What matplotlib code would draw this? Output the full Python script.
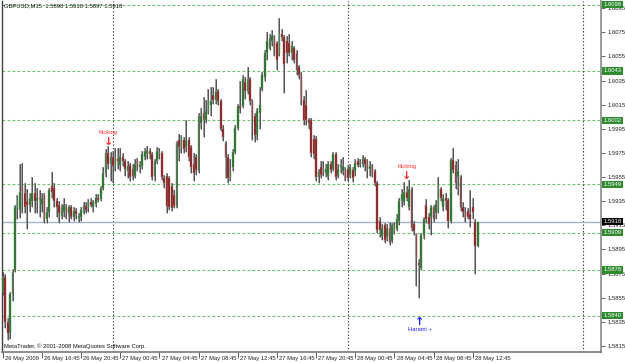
import matplotlib
matplotlib.use('Agg')
import matplotlib.pyplot as plt
import matplotlib.transforms as mtransforms

# ---------------- data ----------------
opens = [1.5860,1.5872,1.5835,1.5826,1.5858,1.5878,1.5930,1.5928,1.5948,1.5942,
         1.5935,1.5932,1.5935,1.5942,1.5935,1.5938,1.5932,1.5940,1.5920,1.5926,
         1.5948,1.5946,1.5935,1.5932,1.5923,1.5926,1.5930,1.5924,1.5930,1.5922,
         1.5927,1.5921,1.5922,1.5926,1.5931,1.5929,1.5934,1.5930,1.5933,1.5938,
         1.5937,1.5946,1.5958,1.5975,1.5966,1.5972,1.5964,1.5970,1.5965,1.5972,
         1.5968,1.5960,1.5965,1.5962,1.5956,1.5968,1.5963,1.5964,1.5972,1.5974,
         1.5977,1.5974,1.5956,1.5968,1.5974,1.5975,1.5954,1.5956,1.5954,1.5948,
         1.5940,1.5930,1.5986,1.5980,1.5986,1.5980,1.5986,1.5980,1.5966,1.5972,
         1.5960,1.6000,1.6008,1.6002,1.6010,1.6015,1.6023,1.6019,1.6026,1.6018,
         1.5995,1.5983,1.5972,1.5955,1.5963,1.5976,1.5996,1.6014,1.6014,1.6034,
         1.6026,1.6036,1.6018,1.6006,1.5990,1.6008,1.6028,1.6038,1.6058,1.6062,
         1.6068,1.6071,1.6066,1.6058,1.6074,1.6071,1.6068,1.6066,1.6058,1.6062,
         1.6058,1.6046,1.6040,1.6019,1.6015,1.6002,1.6002,1.5987,1.5987,1.5955,
         1.5963,1.5960,1.5958,1.5956,1.5966,1.5962,1.5974,1.5956,1.5963,1.5960,
         1.5960,1.5962,1.5957,1.5961,1.5960,1.5968,1.5966,1.5966,1.5970,1.5968,
         1.5962,1.5965,1.5960,1.5950,1.5919,1.5906,1.5915,1.5905,1.5913,1.5902,
         1.5912,1.5912,1.5919,1.5935,1.5934,1.5943,1.5930,1.5945,1.5916,1.5907,
         1.5884,1.5880,1.5907,1.5932,1.5922,1.5922,1.5930,1.5925,1.5928,1.5945,
         1.5930,1.5938,1.5936,1.5919,1.5969,1.5965,1.5955,1.5955,1.5930,1.5926,
         1.5927,1.5924,1.5930,1.5918,1.5898]
highs = [1.5876,1.5875,1.5838,1.5860,1.5879,1.5932,1.5940,1.5966,1.5967,1.5950,
         1.5945,1.5942,1.5955,1.5950,1.5946,1.5944,1.5942,1.5942,1.5930,1.5946,
         1.5959,1.5950,1.5938,1.5935,1.5933,1.5938,1.5933,1.5932,1.5932,1.5930,
         1.5929,1.5925,1.5930,1.5934,1.5934,1.5937,1.5938,1.5936,1.5941,1.5941,
         1.5948,1.5963,1.5978,1.5981,1.5976,1.5977,1.5979,1.5979,1.5979,1.5975,
         1.5970,1.5968,1.5967,1.5966,1.5970,1.5971,1.5968,1.5977,1.5979,1.5981,
         1.5979,1.5976,1.5970,1.5980,1.5979,1.5977,1.5957,1.5958,1.5956,1.5950,
         1.5944,1.5985,1.5991,1.5990,1.5988,1.6002,1.5988,1.5982,1.5975,1.5974,
         1.6008,1.6012,1.6021,1.6019,1.6028,1.6030,1.6030,1.6036,1.6028,1.6020,
         1.5998,1.5985,1.5974,1.5970,1.5978,1.5998,1.6016,1.6035,1.6040,1.6038,
         1.6046,1.6038,1.6020,1.6008,1.6012,1.6030,1.6042,1.6060,1.6075,1.6074,
         1.6077,1.6073,1.6068,1.6087,1.6078,1.6073,1.6072,1.6074,1.6068,1.6064,
         1.6060,1.6048,1.6042,1.6022,1.6027,1.6004,1.6004,1.5990,1.5989,1.5962,
         1.5968,1.5968,1.5966,1.5968,1.5968,1.5976,1.5976,1.5966,1.5970,1.5972,
         1.5963,1.5965,1.5966,1.5963,1.5970,1.5971,1.5970,1.5973,1.5972,1.5970,
         1.5968,1.5966,1.5962,1.5952,1.5922,1.5916,1.5917,1.5916,1.5918,1.5917,
         1.5918,1.5924,1.5938,1.5945,1.5951,1.5948,1.5953,1.5947,1.5919,1.5909,
         1.5887,1.5909,1.5922,1.5937,1.5925,1.5932,1.5932,1.5936,1.5955,1.5947,
         1.5941,1.5942,1.5938,1.5971,1.5979,1.5968,1.5970,1.5957,1.5934,1.5930,
         1.5929,1.5944,1.5938,1.5920,1.5918]
lows = [1.5857,1.5830,1.5820,1.5821,1.5852,1.5876,1.5920,1.5921,1.5925,1.5925,
        1.5912,1.5926,1.5930,1.5925,1.5925,1.5922,1.5926,1.5917,1.5917,1.5922,
        1.5938,1.5930,1.5922,1.5917,1.5920,1.5922,1.5920,1.5918,1.5920,1.5919,
        1.5920,1.5918,1.5919,1.5924,1.5925,1.5926,1.5930,1.5926,1.5930,1.5934,
        1.5935,1.5944,1.5955,1.5962,1.5952,1.5950,1.5960,1.5962,1.5960,1.5964,
        1.5956,1.5954,1.5952,1.5953,1.5954,1.5960,1.5958,1.5962,1.5969,1.5970,
        1.5970,1.5953,1.5952,1.5966,1.5970,1.5953,1.5946,1.5925,1.5928,1.5927,
        1.5929,1.5929,1.5968,1.5975,1.5975,1.5976,1.5968,1.5958,1.5952,1.5957,
        1.5958,1.5995,1.5988,1.6000,1.6007,1.6006,1.6016,1.6016,1.6015,1.5993,
        1.5985,1.5954,1.5950,1.5952,1.5960,1.5974,1.5994,1.6008,1.6012,1.6020,
        1.6024,1.6015,1.5986,1.5984,1.5986,1.5995,1.6026,1.6035,1.6052,1.6060,
        1.6064,1.6055,1.6044,1.6055,1.6068,1.6025,1.6050,1.6055,1.6052,1.6050,
        1.6040,1.6036,1.6015,1.5998,1.5998,1.5995,1.5972,1.5970,1.5952,1.5950,
        1.5954,1.5956,1.5955,1.5953,1.5958,1.5960,1.5953,1.5954,1.5958,1.5957,
        1.5952,1.5952,1.5954,1.5951,1.5956,1.5963,1.5963,1.5963,1.5960,1.5954,
        1.5956,1.5955,1.5948,1.5909,1.5905,1.5903,1.5900,1.5902,1.5899,1.5900,
        1.5908,1.5910,1.5915,1.5930,1.5932,1.5935,1.5928,1.5910,1.5907,1.5865,
        1.5855,1.5878,1.5904,1.5917,1.5912,1.5907,1.5918,1.5920,1.5925,1.5935,
        1.5927,1.5928,1.5913,1.5917,1.5958,1.5945,1.5940,1.5927,1.5922,1.5918,
        1.5920,1.5914,1.5920,1.5875,1.5897]
closes = [1.5872,1.5835,1.5826,1.5858,1.5876,1.5930,1.5936,1.5943,1.5942,1.5930,
          1.5932,1.5938,1.5942,1.5935,1.5938,1.5937,1.5938,1.5920,1.5926,1.5944,
          1.5943,1.5935,1.5930,1.5925,1.5930,1.5932,1.5926,1.5930,1.5922,1.5927,
          1.5924,1.5923,1.5928,1.5931,1.5928,1.5934,1.5932,1.5934,1.5938,1.5936,
          1.5946,1.5958,1.5975,1.5966,1.5972,1.5964,1.5972,1.5968,1.5972,1.5968,
          1.5962,1.5964,1.5955,1.5956,1.5966,1.5963,1.5965,1.5974,1.5977,1.5977,
          1.5974,1.5955,1.5968,1.5977,1.5976,1.5955,1.5950,1.5931,1.5930,1.5929,
          1.5931,1.5983,1.5980,1.5988,1.5978,1.5986,1.5972,1.5963,1.5958,1.5961,
          1.6006,1.6006,1.6002,1.6010,1.6018,1.6018,1.6019,1.6026,1.6018,1.5995,
          1.5988,1.5972,1.5954,1.5960,1.5976,1.5996,1.6014,1.6012,1.6036,1.6026,
          1.6036,1.6018,1.6004,1.5990,1.6010,1.6015,1.6040,1.6058,1.6068,1.6070,
          1.6072,1.6058,1.6052,1.6074,1.6071,1.6049,1.6058,1.6058,1.6064,1.6052,
          1.6044,1.6040,1.6019,1.6002,1.6002,1.6000,1.5975,1.5974,1.5955,1.5960,
          1.5957,1.5962,1.5962,1.5966,1.5961,1.5974,1.5955,1.5962,1.5965,1.5964,
          1.5954,1.5954,1.5963,1.5954,1.5967,1.5965,1.5967,1.5971,1.5966,1.5962,
          1.5964,1.5959,1.5950,1.5911,1.5911,1.5913,1.5903,1.5913,1.5901,1.5915,
          1.5914,1.5920,1.5935,1.5941,1.5943,1.5938,1.5945,1.5913,1.5910,1.5888,
          1.5882,1.5907,1.5920,1.5920,1.5916,1.5930,1.5920,1.5933,1.5946,1.5938,
          1.5938,1.5935,1.5919,1.5969,1.5961,1.5950,1.5960,1.5930,1.5926,1.5922,
          1.5922,1.5920,1.5926,1.5898,1.5918]

level_lines = [1.6098, 1.6043, 1.6002, 1.5949, 1.5909, 1.5878, 1.5840]
bid_price = 1.5918
price_ticks = [1.6095, 1.6075, 1.6055, 1.6035, 1.6015, 1.5995, 1.5975, 1.5955,
               1.5935, 1.5915, 1.5895, 1.5875, 1.5855, 1.5835, 1.5815]
time_tick_bars = [0, 16, 32, 48, 64, 80, 96, 112, 128, 144, 160, 176, 192]
time_tick_labels = ["26 May 2009", "26 May 16:45", "26 May 20:45", "27 May 00:45",
                    "27 May 04:45", "27 May 08:45", "27 May 12:45", "27 May 16:45",
                    "27 May 20:45", "28 May 00:45", "28 May 04:45", "28 May 08:45",
                    "28 May 12:45"]
day_separator_bars = [45, 141, 237]
signal_names = ["Kicking", "Kicking", "Harami +"]
signal_bars = [43, 165.1, 170.4]
signal_dirs = ["down", "down", "up"]
title_text = "GBPUSD,M15  1.5898 1.5918 1.5897 1.5918"
copyright_text = "MetaTrader, \u00a9 2001-2008 MetaQuotes Software Corp."

# ---------------- drawing ----------------
FONT = "Liberation Sans"
FS = 4.2
W, H = 625, 363
fig = plt.figure(figsize=(W / 100, H / 100), dpi=100, facecolor="white")
ax = fig.add_axes([2 / W, 11 / H, 599 / W, 351 / H])
ax.set_facecolor("white")

y_lo, y_hi = 1.58100, 1.61010
ax.set_xlim(-0.33, 244.4)
ax.set_ylim(y_lo, y_hi)

for lv in level_lines:
    ax.axhline(lv, color="#6cc06c", lw=0.8, ls=(0, (2.5, 2.0)), zorder=1)
for sb in day_separator_bars:
    ax.axvline(sb, color="#3a3a3a", lw=0.8, ls=(0, (1.2, 1.8)), zorder=1)
ax.axhline(bid_price, color="#a3b3c9", lw=1.0, zorder=1)

# candles
xs = list(range(len(opens)))
ax.vlines(xs, lows, highs, color="#9a9a9a", lw=1.3, zorder=2)
ax.vlines(xs, lows, highs, color="#454545", lw=0.6, zorder=2)
up_x, up_b, up_h = [], [], []
dn_x, dn_b, dn_h = [], [], []
for i, (o, c) in enumerate(zip(opens, closes)):
    if c >= o:
        up_x.append(i); up_b.append(o); up_h.append(c - o)
    else:
        dn_x.append(i); dn_b.append(c); dn_h.append(o - c)
ax.bar(up_x, up_h, bottom=up_b, width=0.72, color="#1f6a1f",
       edgecolor="#7a9a7a", linewidth=0.35, zorder=3)
ax.bar(dn_x, dn_h, bottom=dn_b, width=0.72, color="#8c1515",
       edgecolor="#9a7a7a", linewidth=0.35, zorder=3)

ax.spines["top"].set_visible(False)
ax.spines["left"].set_color("#404040")
ax.spines["left"].set_linewidth(1.0)
ax.spines["bottom"].set_color("#7a7a7a")
ax.spines["bottom"].set_linewidth(1.2)
ax.spines["right"].set_color("#9a9a9a")
ax.spines["right"].set_linewidth(1.4)

ax.yaxis.tick_right()
ax.set_yticks(price_ticks)
ax.set_yticklabels([f"{p:.4f}" for p in price_ticks], fontname=FONT, fontsize=FS)
ax.tick_params(axis="y", which="both", length=3, width=0.6, color="#444444",
               pad=1.5, labelcolor="#202020", left=False)

ax.set_xticks(time_tick_bars)
ax.set_xticklabels([])
ax.tick_params(axis="x", length=4, width=0.6, color="#444444")
tx = mtransforms.blended_transform_factory(ax.transData, ax.transAxes)
for b, lab in zip(time_tick_bars, time_tick_labels):
    ax.text(b + 0.9, -0.010, lab, transform=tx, ha="left", va="top",
            fontname=FONT, fontsize=FS, color="#202020", clip_on=False)

ty = mtransforms.blended_transform_factory(ax.transAxes, ax.transData)
for lv in level_lines:
    ax.text(1.004, lv, f"{lv:.4f}", transform=ty, ha="left", va="center",
            fontname=FONT, fontsize=FS, color="white", clip_on=False, zorder=10,
            bbox=dict(boxstyle="square,pad=0.2", fc="#2e8b2e", ec="none"))
ax.text(1.004, bid_price, f"{bid_price:.4f}", transform=ty, ha="left", va="center",
        fontname=FONT, fontsize=FS, color="white", clip_on=False, zorder=11,
        bbox=dict(boxstyle="square,pad=0.2", fc="#000000", ec="none"))

ax.text(0.004, 0.985, title_text, transform=ax.transAxes, ha="left", va="center",
        fontname=FONT, fontsize=FS, color="#101010")
ax.text(0.004, 0.017, copyright_text, transform=ax.transAxes, ha="left",
        va="center", fontname=FONT, fontsize=FS, color="#101010")

px_per_price = 351 / (y_hi - y_lo)
for name, b, d in zip(signal_names, signal_bars, signal_dirs):
    i = int(round(b))
    if d == "down":
        col = "#ff2a2a"
        arrow_y = max(highs[max(0, i - 1):i + 2]) + 4 / px_per_price
        text_y = arrow_y + 9 / px_per_price
        ax.text(b, arrow_y, "\u2193", ha="center", va="center", color=col,
                fontsize=8, fontweight="bold", fontname="DejaVu Sans", zorder=6)
        ax.text(b, text_y, name, ha="center", va="center", color=col,
                fontname=FONT, fontsize=FS, zorder=6)
    else:
        col = "#1a1aff"
        arrow_y = min(lows[max(0, i - 1):i + 2]) - 24 / px_per_price
        text_y = arrow_y - 8 / px_per_price
        ax.text(b, arrow_y, "\u2191", ha="center", va="center", color=col,
                fontsize=8, fontweight="bold", fontname="DejaVu Sans", zorder=6)
        ax.text(b, text_y, name, ha="center", va="center", color=col,
                fontname=FONT, fontsize=FS, zorder=6)

fig.savefig("out.png", dpi=100, facecolor="white")
